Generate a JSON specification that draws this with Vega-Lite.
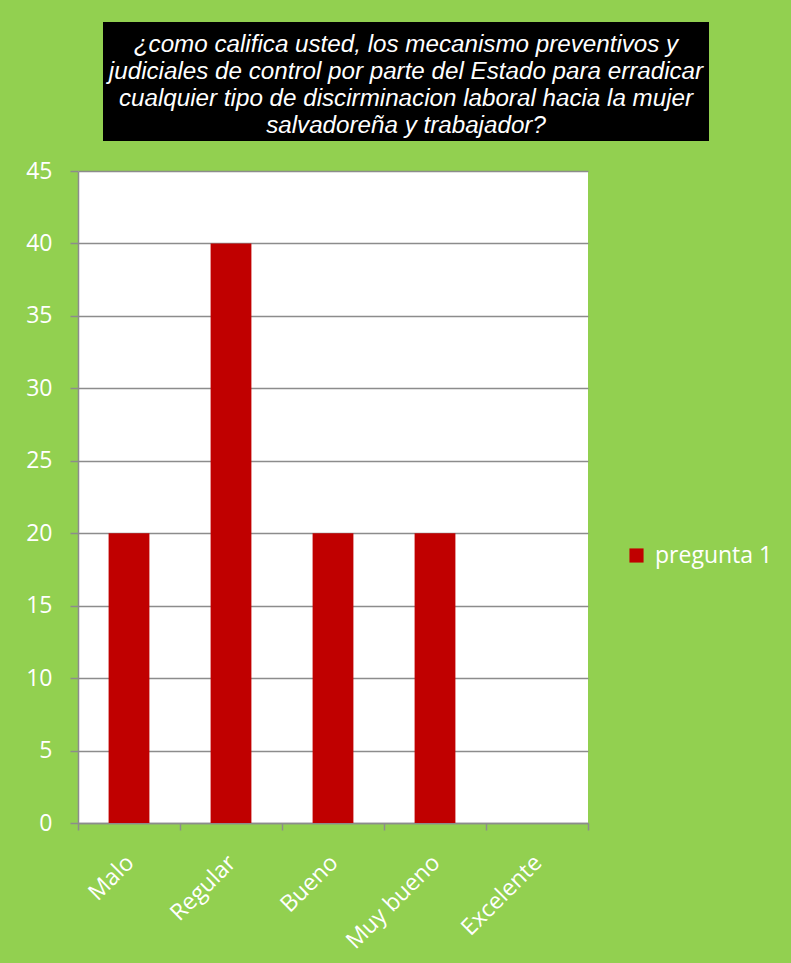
{
  "$schema": "https://vega.github.io/schema/vega-lite/v6.json",
  "background": "#92D050",
  "padding": {"left": 25, "top": 22, "right": 40, "bottom": 30},
  "spacing": 19,
  "config": {
    "view": {"stroke": null},
    "font": "Open Sans"
  },
  "datasets": {
    "respuestas": [
      {"categoria": "Malo", "valor": 20, "serie": "pregunta 1"},
      {"categoria": "Regular", "valor": 40, "serie": "pregunta 1"},
      {"categoria": "Bueno", "valor": 20, "serie": "pregunta 1"},
      {"categoria": "Muy bueno", "valor": 20, "serie": "pregunta 1"},
      {"categoria": "Excelente", "valor": 0, "serie": "pregunta 1"}
    ],
    "titulo": [
      {"texto": "¿como califica usted, los mecanismo preventivos y\njudiciales de control por parte del Estado para erradicar\ncualquier tipo de discirminacion laboral hacia la mujer\nsalvadoreña y trabajador?"}
    ],
    "vacio": [{}]
  },
  "vconcat": [
    {
      "spacing": 0,
      "hconcat": [
        {
          "width": 25,
          "height": 119,
          "data": {"name": "vacio"},
          "mark": {"type": "text", "text": ""},
          "encoding": {}
        },
        {
          "width": 606,
          "height": 119,
          "view": {"fill": "#000000", "stroke": null},
          "data": {"name": "titulo"},
          "mark": {
            "type": "text",
            "font": "Liberation Sans",
            "fontStyle": "italic",
            "fontSize": 24.2,
            "color": "#FFFFFF",
            "align": "center",
            "baseline": "middle",
            "lineBreak": "\n",
            "lineHeight": 27
          },
          "encoding": {
            "text": {"field": "texto"},
            "x": {"datum": 0.5, "type": "quantitative", "scale": {"domain": [0, 1]}, "axis": null},
            "y": {"datum": 0.807, "type": "quantitative", "scale": {"domain": [0, 1]}, "axis": null}
          }
        }
      ]
    },
    {
      "width": 510,
      "height": 652,
      "view": {"fill": "#FFFFFF", "stroke": null},
      "data": {"name": "respuestas"},
      "mark": {"type": "bar", "color": "#C00000", "width": {"band": 0.4}},
      "encoding": {
        "x": {
          "field": "categoria",
          "type": "nominal",
          "sort": null,
          "scale": {"paddingInner": 0, "paddingOuter": 0},
          "axis": {
            "title": null,
            "labelAngle": -45,
            "labelColor": "#FFFFFF",
            "labelFont": "Open Sans",
            "labelFontSize": 23,
            "labelPadding": 21,
            "labelOffset": -7,
            "domainColor": "#8C8C8C",
            "domainWidth": 1.5,
            "tickColor": "#8C8C8C",
            "tickWidth": 1.5,
            "tickSize": 7,
            "tickBand": "extent"
          }
        },
        "y": {
          "field": "valor",
          "type": "quantitative",
          "scale": {"domain": [0, 45], "nice": false},
          "axis": {
            "title": null,
            "values": [0, 5, 10, 15, 20, 25, 30, 35, 40, 45],
            "labelColor": "#FFFFFF",
            "labelFont": "Open Sans",
            "labelFontSize": 23,
            "labelPadding": 18,
            "domainColor": "#8C8C8C",
            "domainWidth": 1.5,
            "tickColor": "#8C8C8C",
            "tickWidth": 1.5,
            "tickSize": 8,
            "grid": true,
            "gridColor": "#8C8C8C",
            "gridWidth": 1.5
          }
        },
        "color": {
          "field": "serie",
          "type": "nominal",
          "scale": {"range": ["#C00000"]},
          "legend": {
            "title": null,
            "orient": "none",
            "legendX": 527,
            "legendY": 502,
            "padding": 20,
            "symbolType": "square",
            "symbolSize": 200,
            "symbolStrokeWidth": 0,
            "symbolOpacity": 1,
            "labelColor": "#FFFFFF",
            "labelFont": "Open Sans",
            "labelFontSize": 23,
            "labelOffset": 7
          }
        }
      }
    }
  ]
}
